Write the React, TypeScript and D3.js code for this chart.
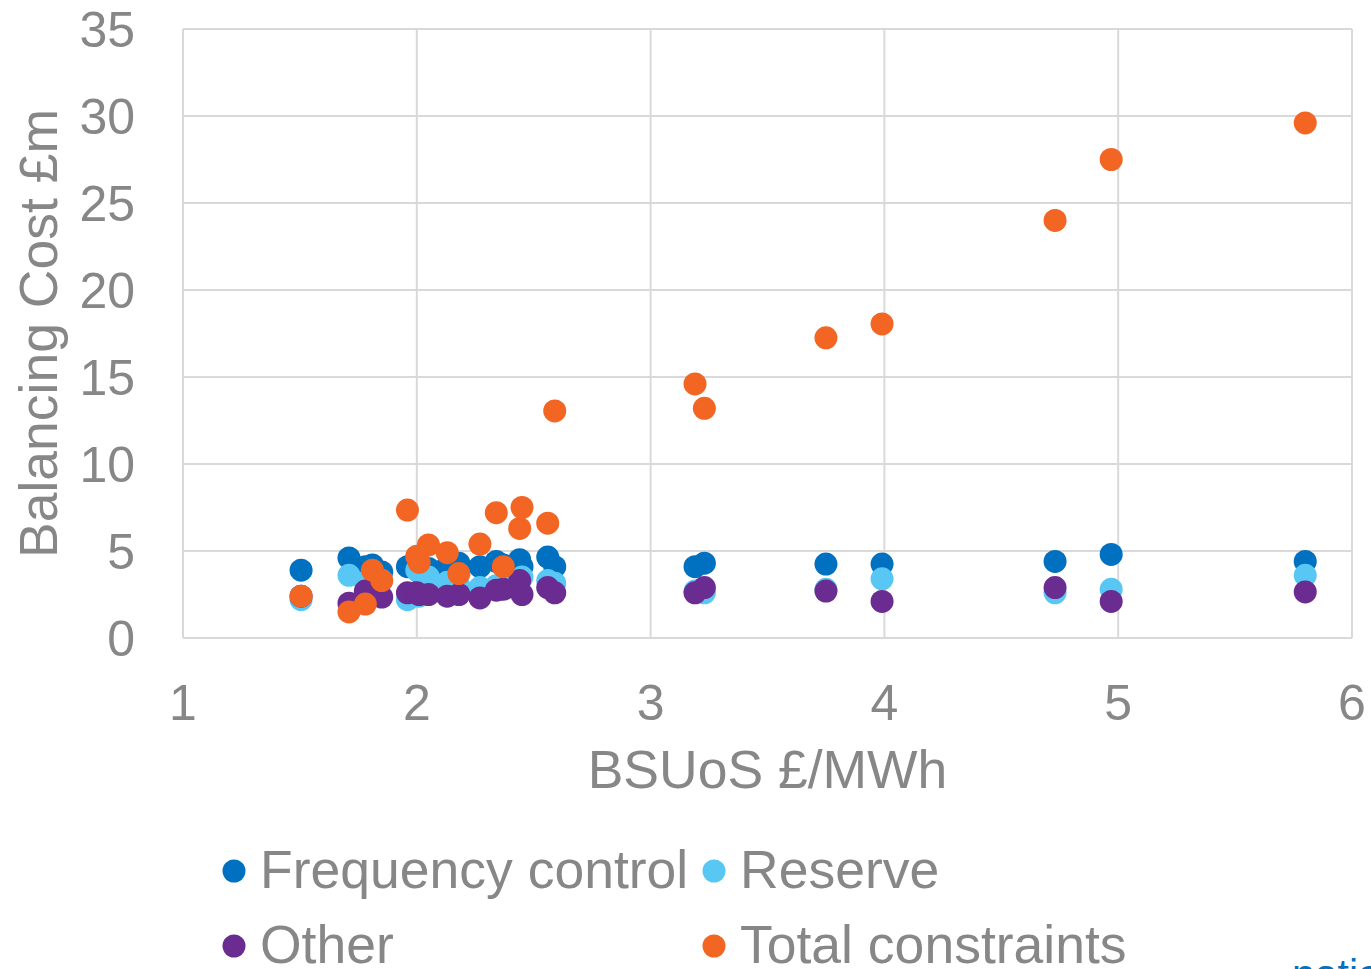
import React from "react";
import * as d3 from "d3";

const bsuos = [1.505, 1.71, 1.78, 1.81, 1.85, 1.96, 2.0, 2.01, 2.05, 2.13, 2.18, 2.27, 2.34, 2.37, 2.44, 2.45, 2.56, 2.59, 3.19, 3.23, 3.75, 3.99, 4.73, 4.97, 5.80];
const frequencyControl = [3.9, 4.6, 4.1, 4.2, 3.8, 4.1, 4.0, 3.8, 4.0, 4.1, 4.3, 4.1, 4.4, 4.2, 4.5, 4.1, 4.65, 4.1, 4.1, 4.3, 4.25, 4.25, 4.4, 4.8, 4.4];
const reserve = [2.2, 3.6, 3.2, 3.0, 3.3, 2.2, 3.9, 2.4, 3.5, 3.2, 3.0, 2.9, 3.0, 3.1, 3.3, 3.5, 3.3, 3.15, 2.7, 2.6, 2.8, 3.4, 2.6, 2.8, 3.6];
const other = [2.4, 2.0, 2.7, 2.8, 2.35, 2.6, 2.6, 2.5, 2.5, 2.4, 2.5, 2.3, 2.75, 2.8, 3.3, 2.5, 2.9, 2.6, 2.6, 2.9, 2.7, 2.1, 2.9, 2.1, 2.65];
const totalConstraints = [2.4, 1.5, 1.95, 3.9, 3.3, 7.35, 4.7, 4.35, 5.35, 4.9, 3.7, 5.4, 7.2, 4.1, 6.3, 7.5, 6.6, 13.05, 14.6, 13.2, 17.25, 18.05, 24.0, 27.5, 29.6];

const xTicks = [1, 2, 3, 4, 5, 6];
const yTicks = [0, 5, 10, 15, 20, 25, 30, 35];

const seriesNames = ["Frequency control", "Reserve", "Other", "Total constraints"];
const seriesColors = ["#0070C0", "#58C7F4", "#6A2C91", "#F26522"];
const seriesValues = [frequencyControl, reserve, other, totalConstraints];

const W = 1371;
const H = 969;
const left = 183, right = 1352, top = 29, bottom = 638;
const textColor = "#878787";
const gridColor = "#D9D9D9";
const font = "Liberation Sans, Arial, sans-serif";

export default function App() {
  const x = d3.scaleLinear().domain([1, 6]).range([left, right]);
  const y = d3.scaleLinear().domain([0, 35]).range([bottom, top]);

  const legendItems = [
    { i: 0, cx: 234, cy: 871 },
    { i: 1, cx: 714, cy: 871 },
    { i: 2, cx: 234, cy: 946 },
    { i: 3, cx: 714, cy: 946 },
  ];

  return (
    <svg width={W} height={H} style={{ position: "absolute", left: 0, top: 0, background: "#fff" }} fontFamily={font}>
      {yTicks.map((t) => (
        <line key={"gy" + t} x1={left} x2={right} y1={y(t)} y2={y(t)} stroke={gridColor} strokeWidth={2} />
      ))}
      {xTicks.map((t) => (
        <line key={"gx" + t} x1={x(t)} x2={x(t)} y1={top} y2={bottom} stroke={gridColor} strokeWidth={2} />
      ))}
      {yTicks.map((t) => (
        <text key={"ty" + t} x={135} y={y(t)} dy="0.35em" textAnchor="end" fontSize={50} fill={textColor}>{t}</text>
      ))}
      {xTicks.map((t) => (
        <text key={"tx" + t} x={x(t)} y={720} textAnchor="middle" fontSize={50} fill={textColor}>{t}</text>
      ))}
      <text x={(left + right) / 2} y={788} textAnchor="middle" fontSize={53.5} fill={textColor}>BSUoS £/MWh</text>
      <text transform={`translate(57, ${(top + bottom) / 2}) rotate(-90)`} textAnchor="middle" fontSize={53.5} fill={textColor}>Balancing Cost £m</text>
      {seriesValues.map((vals, si) => (
        <g key={"s" + si} fill={seriesColors[si]}>
          {vals.map((v, i) => (
            <circle key={i} cx={x(bsuos[i])} cy={y(v)} r={11.5} />
          ))}
        </g>
      ))}
      {legendItems.map((it) => (
        <g key={"l" + it.i}>
          <circle cx={it.cx} cy={it.cy} r={11.5} fill={seriesColors[it.i]} />
          <text x={it.cx + 26} y={it.cy + 16.5} fontSize={53.5} fill={textColor}>{seriesNames[it.i]}</text>
        </g>
      ))}
      <text x={1292} y={988} fontSize={41} fill="#0070C0">nationalgridESO</text>
    </svg>
  );
}
